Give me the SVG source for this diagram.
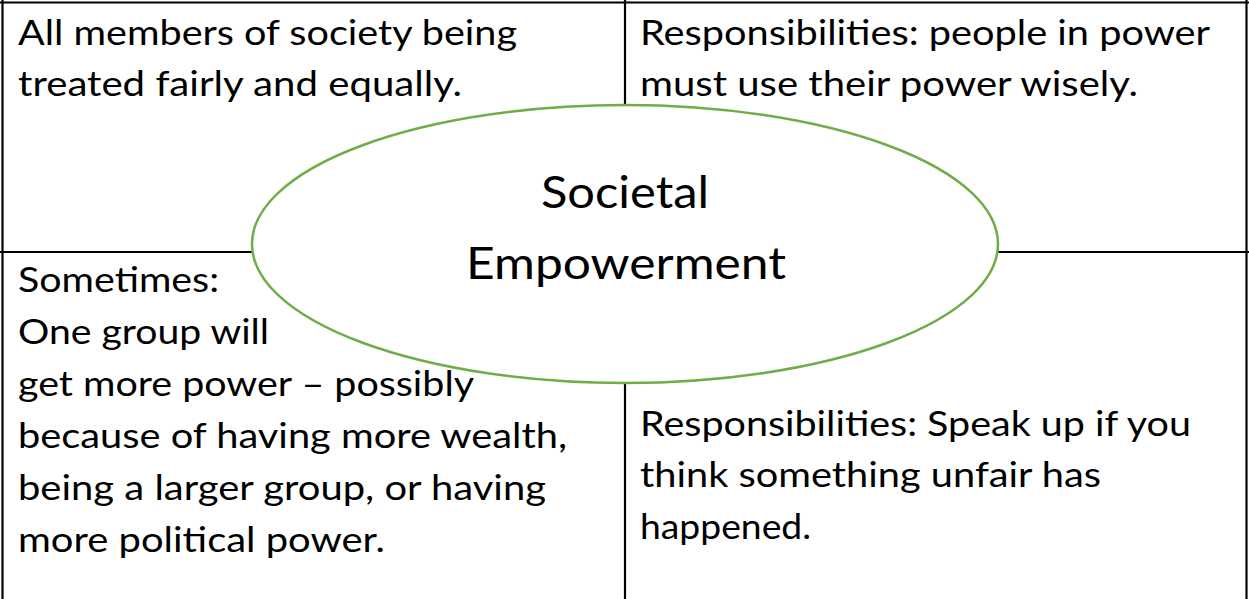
<svg xmlns="http://www.w3.org/2000/svg" width="1249" height="599" viewBox="0 0 1249 599">
<style>
.grid{stroke:#000;stroke-width:2.2;fill:none}
.t{font-family:Lato,"Open Sans","Liberation Sans",sans-serif;font-size:35px;fill:#000}
.c{font-family:Lato,"Open Sans","Liberation Sans",sans-serif;font-size:44px;fill:#000;text-anchor:middle}
</style>
<rect width="1249" height="599" fill="#fff"/>
<g id="grid">
<line class="grid" x1="0" y1="2.5" x2="1249" y2="2.5"/>
<line class="grid" x1="2.5" y1="0" x2="2.5" y2="599"/>
<line class="grid" x1="1246.5" y1="0" x2="1246.5" y2="599"/>
<line class="grid" x1="625" y1="0" x2="625" y2="599"/>
<line class="grid" x1="0" y1="252" x2="1249" y2="252"/>
</g>
<g id="cell-tl">
<text class="t" x="18" y="45" textLength="499" lengthAdjust="spacingAndGlyphs">All members of society being</text>
<text class="t" x="18" y="96" textLength="444" lengthAdjust="spacingAndGlyphs">treated fairly and equally.</text>
</g>
<g id="cell-tr">
<text class="t" x="640" y="45" textLength="570" lengthAdjust="spacingAndGlyphs">Responsibilities: people in power</text>
<text class="t" x="640" y="96" textLength="498" lengthAdjust="spacingAndGlyphs">must use their power wisely.</text>
</g>
<g id="cell-bl">
<text class="t" x="18" y="292" textLength="201" lengthAdjust="spacingAndGlyphs">Sometimes:</text>
<text class="t" x="18" y="344" textLength="251" lengthAdjust="spacingAndGlyphs">One group will</text>
<text class="t" x="18" y="396" textLength="456" lengthAdjust="spacingAndGlyphs">get more power – possibly</text>
<text class="t" x="18" y="448" textLength="549" lengthAdjust="spacingAndGlyphs">because of having more wealth,</text>
<text class="t" x="18" y="500" textLength="528" lengthAdjust="spacingAndGlyphs">being a larger group, or having</text>
<text class="t" x="18" y="552" textLength="367" lengthAdjust="spacingAndGlyphs">more political power.</text>
</g>
<g id="cell-br">
<text class="t" x="640" y="436" textLength="551" lengthAdjust="spacingAndGlyphs">Responsibilities: Speak up if you</text>
<text class="t" x="640" y="487" textLength="461" lengthAdjust="spacingAndGlyphs">think something unfair has</text>
<text class="t" x="640" y="539" textLength="171" lengthAdjust="spacingAndGlyphs">happened.</text>
</g>
<g id="center">
<ellipse cx="625" cy="244" rx="373" ry="139" fill="#fff" stroke="#70AD47" stroke-width="2.5"/>
<text class="c" x="625" y="208" textLength="168" lengthAdjust="spacingAndGlyphs">Societal</text>
<text class="c" x="626" y="279" textLength="320" lengthAdjust="spacingAndGlyphs">Empowerment</text>
</g>
</svg>
